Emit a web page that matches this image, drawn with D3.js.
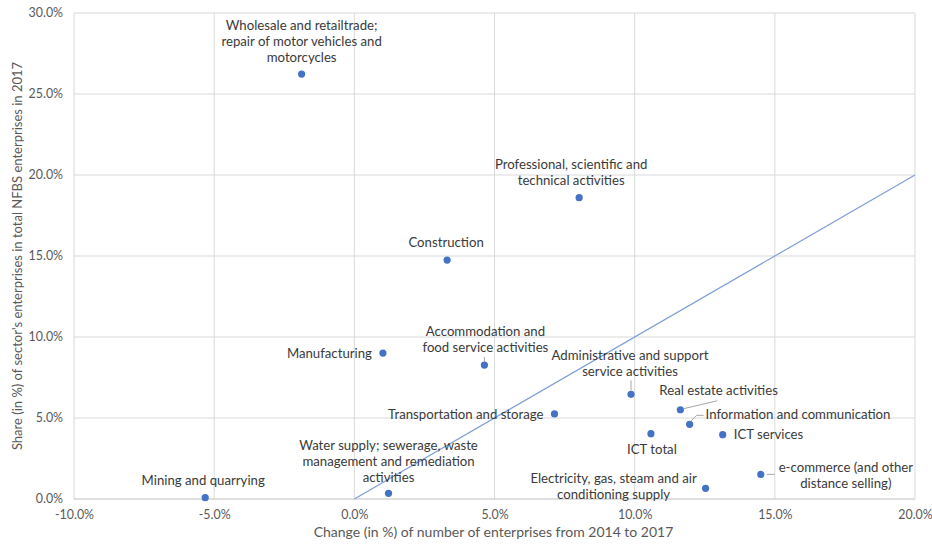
<!DOCTYPE html>
<html>
<head>
<meta charset="utf-8">
<script src="https://cdn.jsdelivr.net/npm/d3@7"></script>
<style>
  body { margin: 0; background: #fff; }
  text { font-family: Lato, "Open Sans", sans-serif; }
</style>
</head>
<body>
<script>
// sectors, x = change 2014-2017 (%), y = share in total NFBS enterprises 2017 (%)
var sectors = [
  ["Wholesale and retailtrade;", "repair of motor vehicles and", "motorcycles"],
  ["Professional, scientific and", "technical activities"],
  ["Construction"],
  ["Manufacturing"],
  ["Accommodation and", "food service activities"],
  ["Administrative and support", "service activities"],
  ["Transportation and storage"],
  ["Real estate activities"],
  ["Information and communication"],
  ["ICT services"],
  ["ICT total"],
  ["e-commerce (and other", "distance selling)"],
  ["Electricity, gas, steam and air", "conditioning supply"],
  ["Water supply; sewerage, waste", "management and remediation", "activities"],
  ["Mining and quarrying"]
];
var changeVals = [-1.88, 8.02, 3.31, 1.02, 4.64, 9.87, 7.14, 11.63, 11.96, 13.14, 10.58, 14.5, 12.53, 1.22, -5.32];
var shareVals  = [26.23, 18.6, 14.75, 9.01, 8.27, 6.46, 5.25, 5.51, 4.61, 3.97, 4.03, 1.52, 0.66, 0.35, 0.08];

var xTicks = [-10, -5, 0, 5, 10, 15, 20];
var yTicks = [0, 5, 10, 15, 20, 25, 30];
var refLine = [[0, 0], [20, 20]];

// label placement relative to each point: anchor, dx, dy (first line), leader path
var labelPos = [
  {a: "middle", dx: 0, dy: -49},
  {a: "middle", dx: -8, dy: -33},
  {a: "middle", dx: -1, dy: -18},
  {a: "end", dx: -11, dy: 0},
  {a: "middle", dx: 1, dy: -34, lead: [[0, -8], [0, -3]]},
  {a: "middle", dx: -1, dy: -39, lead: [[0, -14], [0, -4]]},
  {a: "end", dx: -11, dy: 0},
  {a: "start", dx: -21, dy: -19, lead: [[3, -1], [37, -9]]},
  {a: "start", dx: 16, dy: -10, lead: [[1, -3], [7, -9], [14, -9]]},
  {a: "start", dx: 11, dy: 0},
  {a: "middle", dx: 1, dy: 16},
  {a: "middle", dx: 85, dy: -7, lead: [[6, 0], [14, 0]]},
  {a: "middle", dx: -92, dy: -10},
  {a: "middle", dx: 0, dy: -48},
  {a: "middle", dx: -2, dy: -17}
];

var width = 932, height = 545;
var margin = {top: 13, right: 17, bottom: 46, left: 74};
var w = width - margin.left - margin.right;
var h = height - margin.top - margin.bottom;

var x = d3.scaleLinear().domain([-10, 20]).range([0, w]);
var y = d3.scaleLinear().domain([0, 30]).range([h, 0]);

var svg = d3.select("body").append("svg")
            .attr("width", width)
            .attr("height", height);

var g = svg.append("g").attr("transform", "translate(" + margin.left + "," + margin.top + ")");

// gridlines
g.selectAll(".vgrid").data(xTicks).enter().append("line")
  .attr("x1", function(d) { return x(d); }).attr("x2", function(d) { return x(d); })
  .attr("y1", 0).attr("y2", h)
  .attr("stroke", "#d9d9d9").attr("stroke-width", 1);
g.selectAll(".hgrid").data(yTicks).enter().append("line")
  .attr("x1", 0).attr("x2", w)
  .attr("y1", function(d) { return y(d); }).attr("y2", function(d) { return y(d); })
  .attr("stroke", function(d) { return d === 0 ? "#bfbfbf" : "#d9d9d9"; }).attr("stroke-width", 1);

// axes (labels only)
var fmt = function(d) { return d.toFixed(1) + "%"; };
var xAxis = d3.axisBottom(x).tickValues(xTicks).tickFormat(fmt).tickSize(0).tickPadding(11);
var yAxis = d3.axisLeft(y).tickValues(yTicks).tickFormat(fmt).tickSize(0).tickPadding(11);

var xg = g.append("g").attr("transform", "translate(0," + h + ")").call(xAxis);
var yg = g.append("g").call(yAxis);
[xg, yg].forEach(function(a) {
  a.select(".domain").remove();
  a.selectAll("text").attr("fill", "#595959").style("font-size", "12.4px").style("font-family", "Lato, sans-serif");
});

// reference line y = x
var line = d3.line().x(function(d) { return x(d[0]); }).y(function(d) { return y(d[1]); });
g.append("path").attr("d", line(refLine))
  .attr("fill", "none").attr("stroke", "#7f9fd8").attr("stroke-width", 1.2);

// points
var pts = sectors.map(function(s, i) { return {name: s, cx: changeVals[i], cy: shareVals[i], lp: labelPos[i]}; });

g.selectAll(".dot").data(pts).enter().append("circle")
  .attr("cx", function(d) { return x(d.cx); })
  .attr("cy", function(d) { return y(d.cy); })
  .attr("r", 3.6)
  .attr("fill", "#4472c4");

// leader lines
pts.forEach(function(d) {
  if (!d.lp.lead) return;
  var px = x(d.cx), py = y(d.cy);
  g.append("path")
    .attr("d", d3.line()(d.lp.lead.map(function(p) { return [px + p[0], py + p[1]]; })))
    .attr("fill", "none").attr("stroke", "#a6a6a6").attr("stroke-width", 1);
});

// labels
pts.forEach(function(d) {
  var px = x(d.cx), py = y(d.cy);
  var t = g.append("text")
    .attr("text-anchor", d.lp.a)
    .attr("fill", "#3a3a3a")
    .style("font-size", "13.2px");
  d.name.forEach(function(s, j) {
    t.append("tspan")
      .attr("x", px + d.lp.dx)
      .attr("y", py + d.lp.dy + j * 16)
      .attr("dy", "0.35em")
      .text(s);
  });
});

// axis titles
svg.append("text")
  .attr("x", margin.left + w / 2 - 1)
  .attr("y", 537)
  .attr("text-anchor", "middle")
  .attr("fill", "#595959")
  .style("font-size", "14px")
  .text("Change (in %) of number of enterprises from 2014 to 2017");

svg.append("text")
  .attr("transform", "translate(17," + (margin.top + h / 2) + ") rotate(-90)")
  .attr("text-anchor", "middle")
  .attr("dy", "0.35em")
  .attr("fill", "#595959")
  .style("font-size", "13px")
  .text("Share (in %) of sector's enterprises in total NFBS enterprises in 2017");
</script>
</body>
</html>
